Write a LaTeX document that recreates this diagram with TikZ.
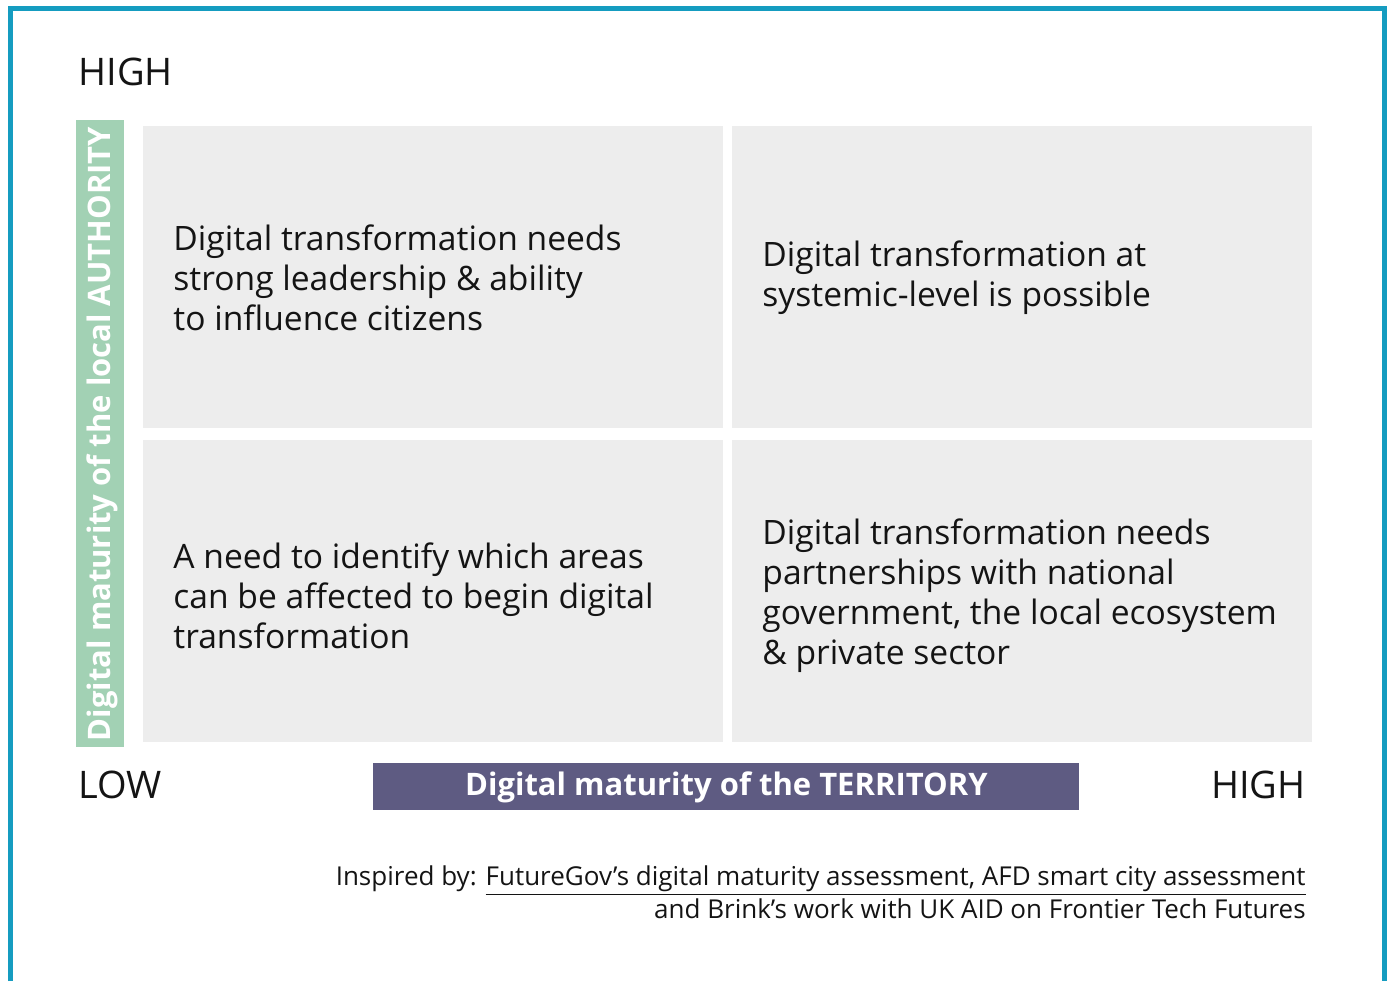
\documentclass[tikz,border=0pt]{standalone}
\usepackage{fontspec}
\setmainfont{Open Sans}
\usepackage{tikz}
\usetikzlibrary{positioning, calc}

\definecolor{frameblue}{HTML}{159CC0}
\definecolor{quadgray}{HTML}{EDEDED}
\definecolor{authgreen}{HTML}{A2D1B4}
\definecolor{terrpurple}{HTML}{5E5B82}
\definecolor{txtblack}{HTML}{141414}

\begin{document}
\begin{tikzpicture}[x=0.5pt, y=-0.5pt,
        quad/.style={fill=quadgray, draw=none, minimum width=290pt, minimum height=151pt, inner sep=0pt},
        quadtext/.style={anchor=west, align=left, text=txtblack, font=\fontsize{16.8}{20}\selectfont, inner sep=0pt},
        level/.style={text=txtblack, font=\fontsize{19}{22}\selectfont, inner sep=0pt},
        axisbar/.style={text=white, font=\fontsize{15.5}{18}\bfseries\selectfont, inner sep=0pt}
    ]
    \useasboundingbox (0,0) rectangle (1391,981);
    % frame open at the bottom
    \draw[frameblue, line width=2.5pt] (10,981) |- (1384,8) -- (1384,981);

    % four quadrants
    \node[quad, anchor=north west] (tl) at (143,126) {};
    \node[quad, anchor=north west] (tr) at (732,126) {};
    \node[quad, anchor=north west] (bl) at (143,440) {};
    \node[quad, anchor=north west] (br) at (732,440) {};

    \node[quadtext] (tltext) at ([xshift=15pt]tl.west) {Digital transformation needs\\strong leadership \& ability\\to influence citizens};
    \node[quadtext] (trtext) at ([xshift=15pt]tr.west) {Digital transformation at\\systemic-level is possible};
    \node[quadtext] (bltext) at ([xshift=15pt,yshift=-2pt]bl.west) {A need to identify which areas\\can be affected to begin digital\\transformation};
    \node[quadtext] (brtext) at ([xshift=15pt,yshift=-2pt]br.west) {Digital transformation needs\\partnerships with national\\government, the local ecosystem\\\& private sector};

    % vertical axis bar
    \node[fill=authgreen, minimum width=24pt, minimum height=313.5pt, inner sep=0pt, anchor=north west] (auth) at (76,120) {};
    \node[axisbar, rotate=90] (authtext) at ([xshift=1pt]auth.center) {Digital maturity of the local AUTHORITY};

    % horizontal axis bar
    \node[fill=terrpurple, minimum width=353pt, minimum height=23.5pt, inner sep=0pt, anchor=north west] (terr) at (373,763) {};
    \node[axisbar] (terrtext) at (terr.center) {Digital maturity of the TERRITORY};

    % levels
    \node[level, anchor=base west] (hightop) at (78,85) {HIGH};
    \node[level, anchor=base west] (low) at (78,798) {LOW};
    \node[level, anchor=base east] (highright) at (1306,798) {HIGH};

    % source note
    \node[anchor=base east, align=right, text=txtblack, font=\fontsize{13}{16.5}\selectfont, inner sep=0pt] (source) at (1306,918)
        {Inspired by: \underline{FutureGov’s digital maturity assessment, AFD smart city assessment}\\and Brink’s work with UK AID on Frontier Tech Futures};
\end{tikzpicture}
\end{document}
